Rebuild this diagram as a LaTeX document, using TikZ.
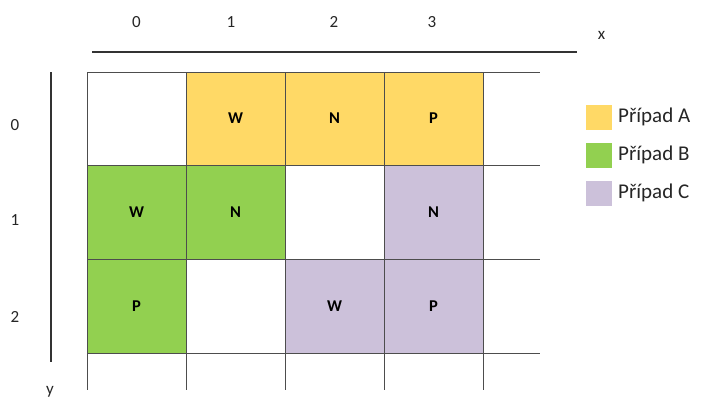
\documentclass[tikz,border=0pt]{standalone}
\usepackage{fontspec}
\setmainfont{Carlito}
\definecolor{cA}{HTML}{FFD966}
\definecolor{cB}{HTML}{92D050}
\definecolor{cC}{HTML}{CCC1DA}
\definecolor{gridc}{HTML}{4D4D4D}
\definecolor{axisc}{HTML}{333333}
\definecolor{txt}{HTML}{262626}
\begin{document}
\begin{tikzpicture}[x=1pt,y=-1pt,
  cell/.style={inner sep=0pt, minimum width=99pt, minimum height=93.5pt, text=black,
    font=\bfseries\fontsize{16.5}{16.5}\selectfont},
  gridline/.style={draw=gridc, line width=0.9pt},
  axisline/.style={draw=axisc, line width=1.3pt},
  lbl/.style={text=txt, inner sep=0pt, font=\fontsize{17}{17}\selectfont},
  legbox/.style={inner sep=0pt, minimum width=26pt, minimum height=25pt},
  legtext/.style={text=txt, inner sep=0pt, anchor=west, font=\fontsize{21}{21}\selectfont}]
\useasboundingbox[fill=white] (0,0) rectangle (701,397);
% cells
\node[cell, fill=cA] (c01) at (235.5,118.5) {W};
\node[cell, fill=cA] (c02) at (334.5,118.5) {N};
\node[cell, fill=cA] (c03) at (433.5,118.5) {P};
\node[cell, fill=cB] (c10) at (136.5,212) {W};
\node[cell, fill=cB] (c11) at (235.5,212) {N};
\node[cell, fill=cC] (c13) at (433.5,212) {N};
\node[cell, fill=cB] (c20) at (136.5,306) {P};
\node[cell, fill=cC] (c22) at (334.5,306) {W};
\node[cell, fill=cC] (c23) at (433.5,306) {P};
% grid lines
\foreach \yy in {72,165.5,259,353}
  \draw[gridline] (87,\yy) -- (540,\yy);
\foreach \xx in {87,186,285,384,483}
  \draw[gridline] (\xx,72) -- (\xx,390);
% axes
\draw[axisline] (92,52) -- (577,52);
\draw[axisline] (51,72) -- (51,362);
% axis labels
\node[lbl] (x0) at (136.5,22) {0};
\node[lbl] (x1) at (231,22) {1};
\node[lbl] (x2) at (334,22) {2};
\node[lbl] (x3) at (432,22) {3};
\node[lbl] (xl) at (601.5,35) {x};
\node[lbl] (y0) at (15,125) {0};
\node[lbl] (y1) at (15,220) {1};
\node[lbl] (y2) at (15,317) {2};
\node[lbl, anchor=base] (yl) at (50,394) {y};
% legend
\node[legbox, fill=cA] (la) at (599,117.5) {};
\node[legbox, fill=cB] (lb) at (599,155.5) {};
\node[legbox, fill=cC] (lc) at (599,193) {};
\node[legtext] (ta) at (618,117) {Případ A};
\node[legtext] (tb) at (618,155) {Případ B};
\node[legtext] (tc) at (618,193) {Případ C};
\end{tikzpicture}
\end{document}
